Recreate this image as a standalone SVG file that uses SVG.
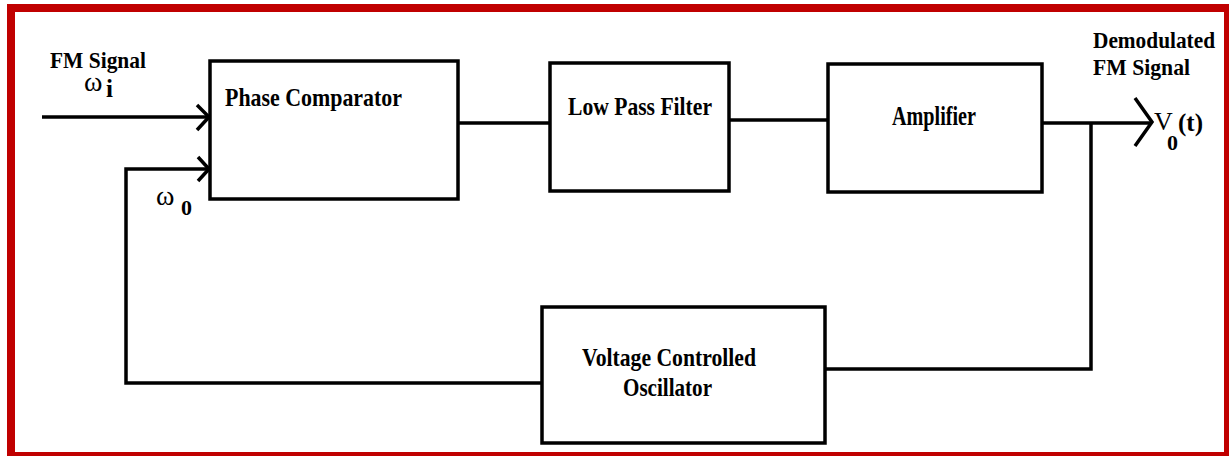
<svg xmlns="http://www.w3.org/2000/svg" width="1231" height="456" viewBox="0 0 1231 456">
<style>
.box{fill:#fff;stroke:#000;stroke-width:3.5}
.ln{fill:none;stroke:#000;stroke-width:3.5;stroke-linejoin:miter}
text{font-family:"Liberation Serif","DejaVu Serif",serif;fill:#000}
.t{font-weight:bold}
.s{font-weight:normal}
.border{fill:#C00000}
</style>
<rect width="1231" height="456" fill="#fff"/>
<g id="frame">
<rect class="border" x="7" y="4" width="1222" height="8"/>
<rect class="border" x="7" y="4" width="8" height="452"/>
<rect class="border" x="1224" y="4" width="5" height="452"/>
<rect class="border" x="7" y="452" width="1222" height="4"/>
</g>
<g id="connectors">
<path class="ln" d="M42 117 H209"/>
<path class="ln" d="M197 105 L209 117 L197 130"/>
<path class="ln" d="M210 169 H126 V383 H542"/>
<path class="ln" d="M198 157 L209 169 L198 181"/>
<path class="ln" d="M458 123 H550"/>
<path class="ln" d="M729 120 H828"/>
<path class="ln" d="M1042 123 H1151"/>
<path class="ln" d="M1135 98 L1152 122 L1135 146"/>
<path class="ln" d="M1091 123 V369 H825"/>
</g>
<g id="phase-comparator">
<rect class="box" x="210" y="61" width="248" height="138"/>
<text class="t" x="225" y="106" font-size="26" textLength="177" lengthAdjust="spacingAndGlyphs">Phase Comparator</text>
</g>
<g id="low-pass-filter">
<rect class="box" x="550" y="63" width="179" height="128"/>
<text class="t" x="568" y="115" font-size="26" textLength="144" lengthAdjust="spacingAndGlyphs">Low Pass Filter</text>
</g>
<g id="amplifier">
<rect class="box" x="828" y="64" width="214" height="128"/>
<text class="t" x="892" y="125" font-size="27" textLength="84" lengthAdjust="spacingAndGlyphs">Amplifier</text>
</g>
<g id="vco">
<rect class="box" x="542" y="307" width="283" height="136"/>
<text class="t" x="582" y="366" font-size="25" textLength="174" lengthAdjust="spacingAndGlyphs">Voltage Controlled</text>
<text class="t" x="623" y="396" font-size="25" textLength="89" lengthAdjust="spacingAndGlyphs">Oscillator</text>
</g>
<g id="input-label">
<text><tspan class="t" x="50" y="68" font-size="24" textLength="96" lengthAdjust="spacingAndGlyphs">FM Signal</tspan><tspan class="s" x="84" y="91" font-size="28">ω</tspan><tspan class="t" x="106" y="97" font-size="25">i</tspan></text>
</g>
<g id="feedback-label">
<text><tspan class="s" x="156" y="205" font-size="28">ω</tspan><tspan class="t" x="181" y="215" font-size="22">0</tspan></text>
</g>
<g id="output-label">
<text class="t" font-size="24"><tspan x="1093" y="48" textLength="122" lengthAdjust="spacingAndGlyphs">Demodulated</tspan><tspan x="1093" y="75" textLength="97" lengthAdjust="spacingAndGlyphs">FM Signal</tspan></text>
<text><tspan class="s" x="1154" y="130" font-size="26">V</tspan><tspan class="t" x="1167" y="150" font-size="22">0</tspan><tspan class="t" x="1178" y="131" font-size="25">(t)</tspan></text>
</g>
</svg>
